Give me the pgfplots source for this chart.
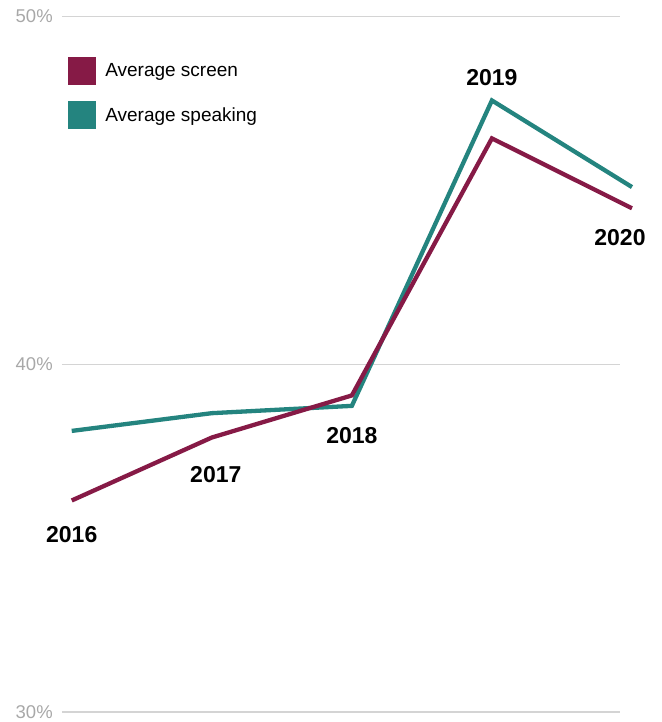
\documentclass[border=0pt]{standalone}
\usepackage{pgfplots}
\pgfplotsset{compat=1.18}
\usepackage{fontspec}
\setmainfont{Liberation Sans}
\definecolor{screen}{HTML}{861A46}
\definecolor{speak}{HTML}{24847F}
\definecolor{gridc}{HTML}{D4D4D4}
\definecolor{tickc}{HTML}{A8A8A8}
\begin{document}
\begin{tikzpicture}
\begin{axis}[
  scale only axis,
  width=558pt, height=695.7pt,
  xmin=2015.93, xmax=2019.914,
  ymin=30, ymax=50,
  clip=false,
  axis line style={draw=none},
  xtick=\empty,
  ytick={30,40,50},
  yticklabels={30\%,40\%,50\%},
  major tick length=0pt,
  ymajorgrids,
  grid style={gridc, line width=1.2pt},
  yticklabel style={inner sep=0pt, anchor=east, xshift=-9pt, text=tickc, font=\fontsize{18.5}{22}\selectfont},
  /pgf/number format/assume math mode=true,
  legend style={at={(rel axis cs:0.0108,0.9415)}, anchor=north west, draw=none, fill=none,
     inner sep=0pt, row sep=16pt, font=\fontsize{19}{22}\selectfont,
     nodes={inner sep=0pt, anchor=west}},
  legend cell align=left,
  legend image code/.code={\fill[#1, draw=none] (0pt,-14pt) rectangle (28pt,14pt);\path (35pt,0pt);},
  reverse legend,
]
\addplot[color=speak, line width=4.3pt, line join=miter] coordinates {
 (2016,38.08) (2017,38.59) (2018,38.80) (2019,47.58) (2020,45.09)};
\addlegendentry{Average speaking}
\addplot[color=screen, line width=4.3pt, line join=miter] coordinates {
 (2016,36.08) (2017,37.89) (2018,39.10) (2019,46.49) (2020,44.48)};
\addlegendentry{Average screen}
\begin{scope}[every node/.style={font=\fontsize{23}{26}\selectfont\bfseries, inner sep=0pt}]
\node at (axis cs:2016,36.08) [yshift=-34pt] {2016};
\node at (axis cs:2017,37.89) [yshift=-37pt, xshift=4pt] {2017};
\node at (axis cs:2018,38.80) [yshift=-30pt] {2018};
\node at (axis cs:2019,47.58) [yshift=23pt] {2019};
\node at (axis cs:2020,44.48) [yshift=-29pt, xshift=-12pt] {2020};
\end{scope}
\path (rel axis cs:-0.111,-0.0144) rectangle (rel axis cs:1.0753,1.0234);
\end{axis}
\end{tikzpicture}
\end{document}
